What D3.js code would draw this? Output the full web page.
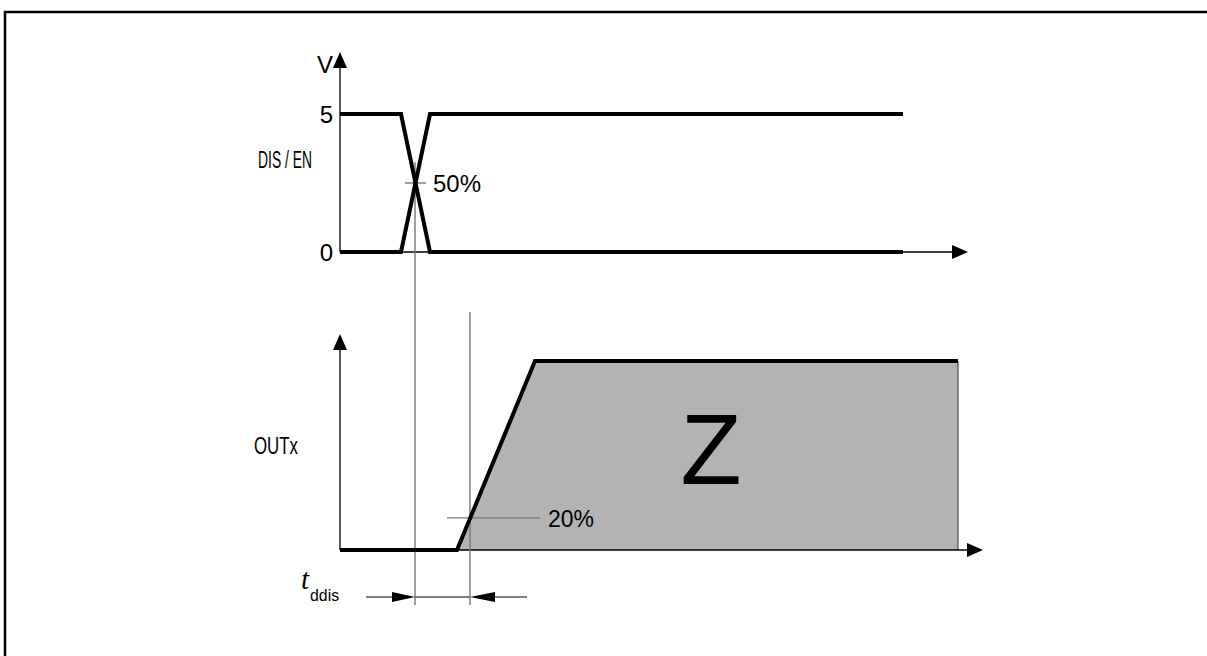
<!DOCTYPE html>
<html>
<head>
<meta charset="utf-8">
<script src="https://cdn.jsdelivr.net/npm/d3@7"></script>
<style>
    body { margin: 0; background: #fff; overflow: hidden; }
    svg { display: block; }
    text { font-family: "Liberation Sans", Arial, sans-serif; fill: #000; }
</style>
</head>
<body>
<script>

// Time axis is in arbitrary units (one unit per pixel of the original drawing)
const disTime = [0, 61, 90, 563];
const disVolts = [5, 5, 0, 0];
const enTime = [0, 61, 90, 563];
const enVolts = [0, 0, 5, 5];
const voltTicks = [0, 5];

// OUTx goes from low to the high-impedance (Z) region
const outTime = [0, 117, 195, 618];
const outLevel = [0, 0, 1, 1];

// markers
const halfLevel = 2.5;       // 50% of DIS / EN
const twentyLevel = 0.17;    // 20% point of OUTx
const crossTime = 75;        // where DIS and EN cross
const twentyTime = 130;      // where OUTx passes 20%

const dims = {
    width: 1207, height: 656,
    top: {y0: 252, y1: 114},
    bot: {y0: 550, y1: 361},
};

let svg = d3.select("body")
    .append('svg')
    .attr('width', dims.width)
    .attr('height', dims.height);

// frame: only the left and top edges are in view
svg.append('path')
    .attr('d', 'M5,700L5,12L1300,12')
    .attr('fill', 'none')
    .attr('stroke', '#000')
    .attr('stroke-width', 2.5);

let x = d3.scaleLinear().domain([0, 630]).range([340, 970]);
let yTop = d3.scaleLinear().domain([0, 5]).range([dims.top.y0, dims.top.y1]);
let yBot = d3.scaleLinear().domain([0, 1]).range([dims.bot.y0, dims.bot.y1]);

// arrow heads
function arrow(g, tipX, tipY, dir, len, half) {
    let p;
    if (dir === 'up') p = [[tipX, tipY], [tipX - half, tipY + len], [tipX + half, tipY + len]];
    if (dir === 'right') p = [[tipX, tipY], [tipX - len, tipY - half], [tipX - len, tipY + half]];
    if (dir === 'left') p = [[tipX, tipY], [tipX + len, tipY - half], [tipX + len, tipY + half]];
    g.append('path')
        .attr('d', 'M' + p.join('L') + 'Z')
        .attr('fill', '#000');
}

// ---- gray Z region (drawn first so lines sit on top)
const outPts = outTime.map((t, i) => [t, outLevel[i]]);
const area = d3.area()
    .x(d => x(d[0]))
    .y0(yBot(0))
    .y1(d => yBot(d[1]));
svg.append('path')
    .attr('d', area(outPts.slice(1)))
    .attr('fill', '#b3b3b3');
svg.append('line')
    .attr('x1', x(outTime[3])).attr('x2', x(outTime[3]))
    .attr('y1', yBot(1)).attr('y2', yBot(0))
    .attr('stroke', '#333').attr('stroke-width', 1);

// ---- axes
let axes = svg.append('g').attr('id', 'axes');

// top: V axis + time axis
axes.append('line')
    .attr('x1', x(0)).attr('x2', x(0))
    .attr('y1', yTop(0)).attr('y2', 66)
    .attr('stroke', '#000').attr('stroke-width', 1.3);
arrow(axes, x(0), 52, 'up', 16, 7);
axes.append('line')
    .attr('x1', x(0)).attr('x2', 954)
    .attr('y1', yTop(0)).attr('y2', yTop(0))
    .attr('stroke', '#000').attr('stroke-width', 1.3);
arrow(axes, 968, yTop(0), 'right', 16, 7);

// bottom: OUTx axis + time axis
axes.append('line')
    .attr('x1', x(0)).attr('x2', x(0))
    .attr('y1', yBot(0)).attr('y2', 348)
    .attr('stroke', '#000').attr('stroke-width', 1.3);
arrow(axes, x(0), 334, 'up', 16, 7);
axes.append('line')
    .attr('x1', x(0)).attr('x2', 968)
    .attr('y1', yBot(0)).attr('y2', yBot(0))
    .attr('stroke', '#000').attr('stroke-width', 1.3);
arrow(axes, 983, yBot(0), 'right', 16, 7);

// volt tick labels
axes.selectAll('.vtick')
    .data(voltTicks)
    .enter()
    .append('text')
    .attr('x', 333)
    .attr('y', d => yTop(d))
    .attr('dy', '0.36em')
    .attr('text-anchor', 'end')
    .attr('font-size', 24)
    .text(d => d);

axes.append('text')
    .attr('x', 317).attr('y', 73)
    .attr('font-size', 24)
    .text('V');

// ---- helper (grey) lines
let guides = svg.append('g')
    .attr('stroke', '#777')
    .attr('stroke-width', 1.4);
guides.append('line')
    .attr('x1', x(crossTime)).attr('x2', x(crossTime))
    .attr('y1', 162).attr('y2', 605);
guides.append('line')
    .attr('x1', x(crossTime) - 10).attr('x2', x(crossTime) + 11)
    .attr('y1', yTop(halfLevel)).attr('y2', yTop(halfLevel));
guides.append('line')
    .attr('x1', x(twentyTime)).attr('x2', x(twentyTime))
    .attr('y1', 312).attr('y2', 605);
guides.append('line')
    .attr('x1', x(twentyTime) - 23).attr('x2', x(twentyTime) + 70)
    .attr('y1', yBot(twentyLevel)).attr('y2', yBot(twentyLevel));

// ---- signals
const lineTop = d3.line().x(d => x(d[0])).y(d => yTop(d[1]));
const lineBot = d3.line().x(d => x(d[0])).y(d => yBot(d[1]));

let sig = svg.append('g')
    .attr('fill', 'none')
    .attr('stroke', '#000')
    .attr('stroke-width', 4)
    .attr('stroke-linejoin', 'miter');
sig.append('path').attr('d', lineTop(disTime.map((t, i) => [t, disVolts[i]])));
sig.append('path').attr('d', lineTop(enTime.map((t, i) => [t, enVolts[i]])));
sig.append('path').attr('d', lineBot(outPts));

// ---- labels (the original uses a narrow face, so squeeze to width)
svg.append('text')
    .attr('x', 258).attr('y', 168)
    .attr('font-size', 23)
    .attr('textLength', 54).attr('lengthAdjust', 'spacingAndGlyphs')
    .text('DIS / EN');
svg.append('text')
    .attr('x', 254).attr('y', 454)
    .attr('font-size', 23)
    .attr('textLength', 44).attr('lengthAdjust', 'spacingAndGlyphs')
    .text('OUTx');
svg.append('text')
    .attr('x', 433).attr('y', yTop(halfLevel) + 9)
    .attr('font-size', 24)
    .attr('textLength', 48).attr('lengthAdjust', 'spacingAndGlyphs')
    .text('50%');
svg.append('text')
    .attr('x', 548).attr('y', yBot(twentyLevel) + 9)
    .attr('font-size', 24)
    .attr('textLength', 46).attr('lengthAdjust', 'spacingAndGlyphs')
    .text('20%');
svg.append('text')
    .attr('x', 711).attr('y', 484)
    .attr('text-anchor', 'middle')
    .attr('font-size', 100)
    .text('Z');

// t_ddis dimension
let tlab = svg.append('text').attr('x', 301).attr('y', 589);
tlab.append('tspan')
    .attr('font-size', 29).attr('font-style', 'italic')
    .attr('font-family', '"Liberation Serif", serif')
    .text('t');
tlab.append('tspan')
    .attr('font-size', 17).attr('dy', 12).attr('dx', 1)
    .attr('textLength', 29).attr('lengthAdjust', 'spacingAndGlyphs')
    .text('ddis');

let dim = svg.append('g');
dim.append('line')
    .attr('x1', 366).attr('x2', 400)
    .attr('y1', 597).attr('y2', 597)
    .attr('stroke', '#555').attr('stroke-width', 1.3);
arrow(dim, x(crossTime), 597, 'right', 23, 5);
dim.append('line')
    .attr('x1', x(crossTime)).attr('x2', x(twentyTime))
    .attr('y1', 597).attr('y2', 597)
    .attr('stroke', '#555').attr('stroke-width', 1.3);
dim.append('line')
    .attr('x1', 490).attr('x2', 527)
    .attr('y1', 597).attr('y2', 597)
    .attr('stroke', '#555').attr('stroke-width', 1.3);
arrow(dim, x(twentyTime), 597, 'left', 25, 5);

</script>
</body>
</html>
